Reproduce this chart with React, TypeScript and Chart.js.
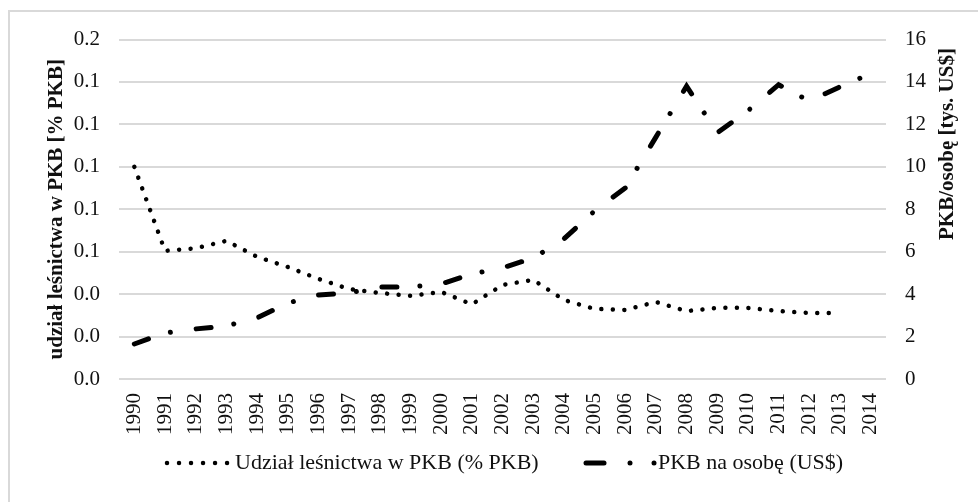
import { useEffect, useRef } from "react";
import { Chart, registerables } from "chart.js";

Chart.register(...registerables);

const years = [
  "1990", "1991", "1992", "1993", "1994", "1995", "1996", "1997", "1998", "1999",
  "2000", "2001", "2002", "2003", "2004", "2005", "2006", "2007", "2008", "2009",
  "2010", "2011", "2012", "2013", "2014",
];

// Udział leśnictwa w PKB (% PKB) – left axis
const forestryShare = [
  0.125, 0.0755, 0.077, 0.0814, 0.072, 0.066, 0.059, 0.053, 0.0507, 0.049,
  0.0513, 0.044, 0.0554, 0.0584, 0.0466, 0.0413, 0.0407, 0.0454, 0.040, 0.0419,
  0.0419, 0.040, 0.0389, 0.0388, null,
];

// PKB na osobę (tys. US$) – right axis
const gdpPerCapita = [
  1.65, 2.17, 2.36, 2.5, 2.88, 3.58, 3.96, 4.06, 4.34, 4.34,
  4.48, 4.95, 5.24, 5.7, 6.6, 7.92, 9.0, 11.4, 13.8, 11.6,
  12.64, 13.87, 13.1, 13.77, 14.39,
];

const leftTickLabels = ["0.0", "0.0", "0.0", "0.1", "0.1", "0.1", "0.1", "0.1", "0.2"];
const rightTickLabels = ["0", "2", "4", "6", "8", "10", "12", "14", "16"];

const forestryLabel = "Udział leśnictwa w PKB (% PKB)";
const gdpLabel = "PKB na osobę (US$)";
const leftTitle = "udział leśnictwa w PKB [% PKB]";
const rightTitle = "PKB/osobę [tys. US$]";

const FONT = "'Liberation Serif', 'Times New Roman', serif";
const TEXT = "#111111";
const GRID = "#d9d9d9";

const decorPlugin = {
  id: "decor",
  beforeDraw(chart: any) {
    const ctx = chart.ctx as CanvasRenderingContext2D;
    ctx.save();
    ctx.fillStyle = "#ffffff";
    ctx.fillRect(0, 0, chart.width, chart.height);
    ctx.fillStyle = GRID;
    ctx.fillRect(8, 10, 2, chart.height - 10);
    ctx.fillRect(8, 10, chart.width - 8, 2);
    ctx.restore();
  },
  afterDraw(chart: any) {
    const ctx = chart.ctx as CanvasRenderingContext2D;
    const ca = chart.chartArea;
    ctx.save();
    ctx.fillStyle = TEXT;
    ctx.font = `bold 21px ${FONT}`;
    ctx.textAlign = "center";
    ctx.textBaseline = "middle";
    // left title
    ctx.save();
    ctx.translate(57, (ca.top + ca.bottom) / 2);
    ctx.rotate(-Math.PI / 2);
    ctx.fillText(leftTitle, 0, 0);
    ctx.restore();
    // right title
    ctx.save();
    ctx.translate(948, 144);
    ctx.rotate(-Math.PI / 2);
    ctx.fillText(rightTitle, 0, 0);
    ctx.restore();

    // legend
    const ds = chart.data.datasets;
    const ly = 463;
    ctx.strokeStyle = "#000";
    ctx.lineCap = "round";
    // dotted sample
    ctx.lineWidth = 4.5;
    ctx.setLineDash([0.01, 12]);
    ctx.beginPath();
    ctx.moveTo(167, ly);
    ctx.lineTo(228, ly);
    ctx.stroke();
    ctx.setLineDash([]);
    ctx.font = `22px ${FONT}`;
    ctx.textAlign = "left";
    ctx.fillText(ds[0].label, 235, ly);
    // dash-dot-dot sample
    ctx.lineWidth = 5;
    ctx.beginPath();
    ctx.moveTo(586, ly);
    ctx.lineTo(604, ly);
    ctx.stroke();
    ctx.fillStyle = "#000";
    ctx.beginPath();
    ctx.arc(630, ly, 2.5, 0, Math.PI * 2);
    ctx.fill();
    ctx.beginPath();
    ctx.arc(654, ly, 2.5, 0, Math.PI * 2);
    ctx.fill();
    ctx.fillStyle = TEXT;
    ctx.fillText(ds[1].label, 658, ly);
    ctx.restore();
  },
};

export default function App() {
  const ref = useRef<HTMLCanvasElement | null>(null);

  useEffect(() => {
    if (!ref.current) return;
    const chart = new Chart(ref.current, {
      type: "line",
      data: {
        labels: years,
        datasets: [
          {
            label: forestryLabel,
            data: forestryShare,
            yAxisID: "y",
            borderColor: "#000",
            borderWidth: 4.5,
            borderDash: [0.01, 11.5],
            borderCapStyle: "round",
            pointRadius: 0,
            tension: 0,
            spanGaps: false,
          },
          {
            label: gdpLabel,
            data: gdpPerCapita,
            yAxisID: "y1",
            borderColor: "#000",
            borderWidth: 5,
            borderDash: [15, 23, 0.01, 26],
            borderCapStyle: "round",
            pointRadius: 0,
            tension: 0,
          },
        ],
      },
      options: {
        responsive: false,
        animation: false,
        devicePixelRatio: 1,
        layout: { padding: { top: 39.5, left: 0, right: 0, bottom: 63 } },
        plugins: {
          legend: { display: false },
          tooltip: { enabled: false },
        },
        scales: {
          x: {
            offset: true,
            grid: { display: false, drawTicks: false },
            border: { display: false },
            ticks: {
              autoSkip: false,
              minRotation: 90,
              maxRotation: 90,
              padding: 14,
              color: TEXT,
              font: { family: FONT, size: 21 },
            },
            afterFit: (s: any) => {
              s.height = 60;
            },
          },
          y: {
            position: "left",
            min: 0,
            max: 0.2,
            grid: { color: GRID, lineWidth: 2, drawTicks: false },
            border: { display: false },
            ticks: {
              stepSize: 0.025,
              padding: 19,
              color: TEXT,
              font: { family: FONT, size: 21 },
              callback: (_v: any, i: number) => leftTickLabels[i],
            },
            afterFit: (s: any) => {
              s.width = 119;
            },
          },
          y1: {
            position: "right",
            min: 0,
            max: 16,
            grid: { display: false, drawTicks: false },
            border: { display: false },
            ticks: {
              stepSize: 2,
              padding: 19,
              color: TEXT,
              font: { family: FONT, size: 21 },
              callback: (_v: any, i: number) => rightTickLabels[i],
            },
            afterFit: (s: any) => {
              s.width = 92;
            },
          },
        },
      },
      plugins: [decorPlugin],
    });
    return () => chart.destroy();
  }, []);

  return (
    <div style={{ position: "fixed", left: 0, top: 0, width: 978, height: 502, background: "#fff" }}>
      <canvas ref={ref} width={978} height={502} style={{ display: "block", width: 978, height: 502 }} />
    </div>
  );
}
